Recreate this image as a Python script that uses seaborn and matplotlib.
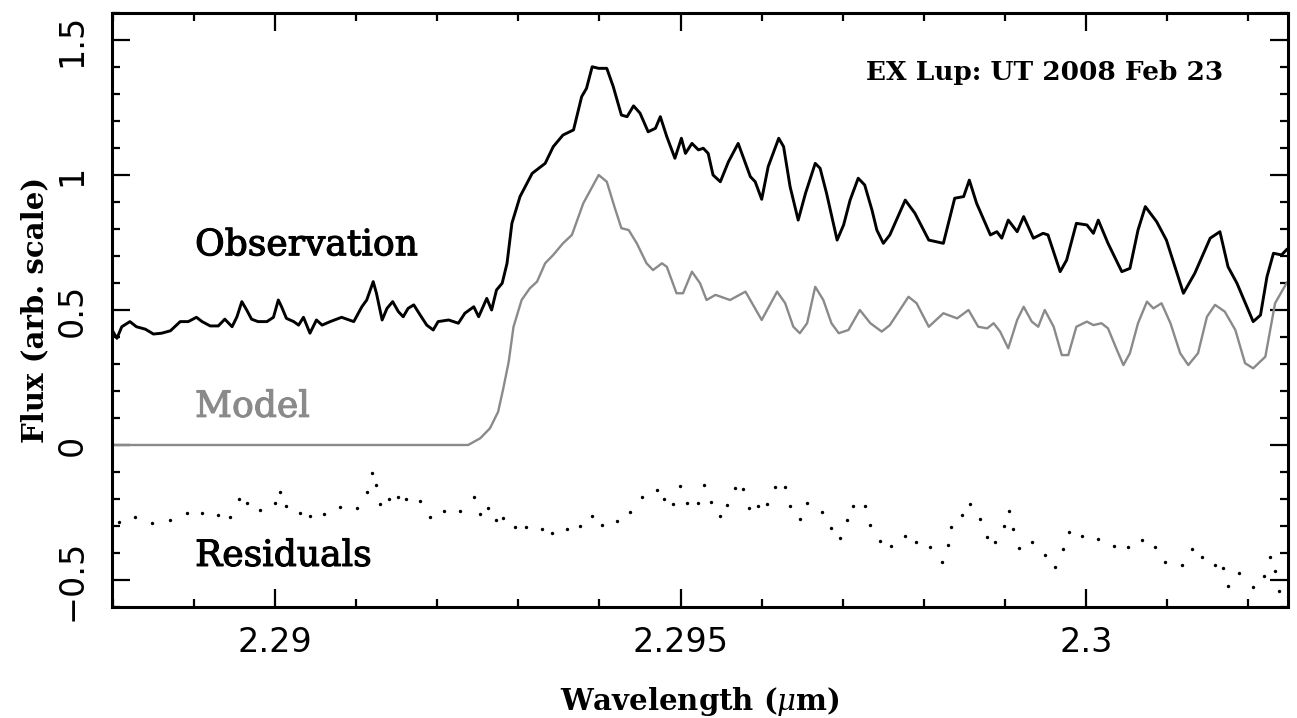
import matplotlib
matplotlib.use("Agg")
import matplotlib.pyplot as plt
import matplotlib.patheffects as pe
import seaborn as sns
import pandas as pd
from matplotlib.ticker import MultipleLocator, FixedLocator, FixedFormatter

# --- Observed spectrum (wavelength in micron, flux in arbitrary units) ---
obs_wave = [
    2.28799, 2.28805, 2.28811, 2.28821, 2.28829, 2.28840, 2.28850, 2.28860, 2.28871, 2.28883,
    2.28893, 2.28903, 2.28910, 2.28920, 2.28930, 2.28938, 2.28947, 2.28953, 2.28959, 2.28965,
    2.28971, 2.28979, 2.28990, 2.28998, 2.29004, 2.29008, 2.29014, 2.29023, 2.29029, 2.29035,
    2.29043, 2.29051, 2.29058, 2.29068, 2.29082, 2.29097, 2.29107, 2.29113, 2.29121, 2.29125,
    2.29132, 2.29138, 2.29145, 2.29152, 2.29158, 2.29164, 2.29171, 2.29179, 2.29187, 2.29195,
    2.29201, 2.29214, 2.29226, 2.29234, 2.29245, 2.29251, 2.29261, 2.29267, 2.29273, 2.29280,
    2.29286, 2.29292, 2.29302, 2.29317, 2.29333, 2.29343, 2.29355, 2.29368, 2.29378, 2.29384,
    2.29391, 2.29399, 2.29409, 2.29417, 2.29427, 2.29434, 2.29442, 2.29450, 2.29460, 2.29469,
    2.29475, 2.29483, 2.29493, 2.29501, 2.29506, 2.29514, 2.29522, 2.29528, 2.29534, 2.29540,
    2.29549, 2.29559, 2.29571, 2.29586, 2.29592, 2.29600, 2.29608, 2.29621, 2.29627, 2.29635,
    2.29645, 2.29654, 2.29666, 2.29672, 2.29680, 2.29693, 2.29701, 2.29709, 2.29719, 2.29727,
    2.29736, 2.29742, 2.29750, 2.29758, 2.29777, 2.29789, 2.29806, 2.29824, 2.29838, 2.29849,
    2.29856, 2.29865, 2.29882, 2.29890, 2.29896, 2.29904, 2.29915, 2.29923, 2.29935, 2.29947,
    2.29953, 2.29968, 2.29976, 2.29988, 2.30001, 2.30009, 2.30015, 2.30027, 2.30044, 2.30054,
    2.30064, 2.30073, 2.30087, 2.30099, 2.30120, 2.30134, 2.30153, 2.30165, 2.30175, 2.30186,
    2.30206, 2.30215, 2.30223, 2.30231, 2.30241, 2.30248,
]
obs_flux = [
    0.426, 0.395, 0.438, 0.457, 0.438, 0.429, 0.411, 0.414, 0.423, 0.457,
    0.457, 0.473, 0.457, 0.441, 0.441, 0.466, 0.438, 0.475, 0.531, 0.500,
    0.466, 0.457, 0.457, 0.473, 0.537, 0.512, 0.469, 0.457, 0.444, 0.473,
    0.414, 0.463, 0.444, 0.457, 0.473, 0.457, 0.512, 0.537, 0.605, 0.562,
    0.463, 0.506, 0.531, 0.494, 0.475, 0.506, 0.519, 0.481, 0.444, 0.426,
    0.457, 0.463, 0.451, 0.488, 0.512, 0.475, 0.543, 0.500, 0.574, 0.599,
    0.673, 0.821, 0.920, 1.006, 1.043, 1.105, 1.148, 1.167, 1.290, 1.321,
    1.401, 1.395, 1.395, 1.327, 1.222, 1.216, 1.256, 1.229, 1.160, 1.173,
    1.216, 1.142, 1.062, 1.136, 1.080, 1.117, 1.093, 1.099, 1.080, 1.000,
    0.975, 1.049, 1.117, 0.994, 0.975, 0.910, 1.031, 1.136, 1.105, 0.957,
    0.833, 0.932, 1.043, 1.025, 0.932, 0.759, 0.815, 0.907, 0.988, 0.963,
    0.870, 0.796, 0.747, 0.778, 0.907, 0.858, 0.759, 0.747, 0.914, 0.920,
    0.981, 0.895, 0.778, 0.790, 0.766, 0.833, 0.790, 0.846, 0.766, 0.784,
    0.778, 0.642, 0.685, 0.821, 0.815, 0.784, 0.833, 0.747, 0.642, 0.654,
    0.796, 0.883, 0.827, 0.759, 0.562, 0.636, 0.766, 0.790, 0.660, 0.599,
    0.457, 0.481, 0.623, 0.710, 0.704, 0.726,
]

# --- Model spectrum ---
model_wave = [
    2.28799, 2.29238, 2.29253, 2.29265, 2.29275, 2.29281, 2.29288, 2.29294, 2.29304, 2.29314,
    2.29323, 2.29333, 2.29343, 2.29355, 2.29366, 2.29380, 2.29399, 2.29409, 2.29419, 2.29427,
    2.29436, 2.29446, 2.29458, 2.29466, 2.29477, 2.29483, 2.29495, 2.29503, 2.29514, 2.29524,
    2.29532, 2.29543, 2.29561, 2.29580, 2.29600, 2.29619, 2.29629, 2.29639, 2.29647, 2.29656,
    2.29666, 2.29676, 2.29686, 2.29695, 2.29707, 2.29721, 2.29734, 2.29748, 2.29758, 2.29781,
    2.29791, 2.29806, 2.29824, 2.29841, 2.29855, 2.29867, 2.29878, 2.29886, 2.29894, 2.29904,
    2.29915, 2.29923, 2.29933, 2.29941, 2.29949, 2.29960, 2.29970, 2.29978, 2.29988, 2.30001,
    2.30009, 2.30019, 2.30027, 2.30038, 2.30046, 2.30054, 2.30064, 2.30075, 2.30083, 2.30093,
    2.30104, 2.30116, 2.30126, 2.30138, 2.30149, 2.30159, 2.30171, 2.30184, 2.30196, 2.30206,
    2.30221, 2.30233, 2.30248,
]
model_flux = [
    0.000, 0.000, 0.025, 0.062, 0.123, 0.204, 0.307, 0.438, 0.537, 0.580,
    0.605, 0.673, 0.704, 0.747, 0.778, 0.895, 1.000, 0.975, 0.877, 0.803,
    0.796, 0.747, 0.673, 0.648, 0.673, 0.660, 0.562, 0.562, 0.642, 0.599,
    0.537, 0.556, 0.537, 0.568, 0.463, 0.568, 0.525, 0.438, 0.414, 0.451,
    0.586, 0.537, 0.451, 0.414, 0.426, 0.500, 0.451, 0.420, 0.444, 0.549,
    0.525, 0.438, 0.488, 0.469, 0.500, 0.438, 0.432, 0.451, 0.420, 0.358,
    0.463, 0.512, 0.457, 0.438, 0.500, 0.438, 0.333, 0.333, 0.438, 0.457,
    0.444, 0.451, 0.432, 0.352, 0.296, 0.340, 0.451, 0.531, 0.506, 0.525,
    0.451, 0.340, 0.296, 0.340, 0.475, 0.519, 0.494, 0.426, 0.303, 0.284,
    0.327, 0.525, 0.604,
]

# --- Residuals (observation minus model, offset) ---
resid_wave = [
    2.28807, 2.28827, 2.28848, 2.28871, 2.28891, 2.28910, 2.28930, 2.28945, 2.28955, 2.28965,
    2.28982, 2.29000, 2.29006, 2.29014, 2.29031, 2.29043, 2.29060, 2.29080, 2.29101, 2.29113,
    2.29120, 2.29125, 2.29129, 2.29140, 2.29152, 2.29162, 2.29179, 2.29191, 2.29208, 2.29228,
    2.29245, 2.29253, 2.29263, 2.29273, 2.29281, 2.29296, 2.29310, 2.29329, 2.29341, 2.29360,
    2.29376, 2.29391, 2.29403, 2.29421, 2.29438, 2.29452, 2.29471, 2.29479, 2.29491, 2.29499,
    2.29508, 2.29522, 2.29529, 2.29538, 2.29549, 2.29557, 2.29567, 2.29577, 2.29584, 2.29596,
    2.29606, 2.29617, 2.29629, 2.29635, 2.29647, 2.29656, 2.29674, 2.29686, 2.29697, 2.29705,
    2.29713, 2.29727, 2.29734, 2.29746, 2.29760, 2.29777, 2.29790, 2.29808, 2.29822, 2.29830,
    2.29834, 2.29847, 2.29857, 2.29869, 2.29878, 2.29888, 2.29899, 2.29905, 2.29910, 2.29917,
    2.29933, 2.29949, 2.29962, 2.29971, 2.29979, 2.29995, 2.30015, 2.30034, 2.30052, 2.30069,
    2.30085, 2.30097, 2.30118, 2.30130, 2.30143, 2.30159, 2.30169, 2.30175, 2.30189, 2.30206,
    2.30219, 2.30227, 2.30233, 2.30238,
]
resid_flux = [
    -0.284, -0.266, -0.288, -0.278, -0.251, -0.253, -0.259, -0.266, -0.201, -0.214,
    -0.241, -0.216, -0.173, -0.225, -0.251, -0.263, -0.256, -0.231, -0.234, -0.173,
    -0.103, -0.148, -0.219, -0.201, -0.191, -0.201, -0.209, -0.267, -0.244, -0.243,
    -0.194, -0.256, -0.234, -0.278, -0.271, -0.305, -0.305, -0.311, -0.327, -0.312,
    -0.300, -0.263, -0.296, -0.280, -0.247, -0.194, -0.167, -0.201, -0.219, -0.152,
    -0.214, -0.216, -0.148, -0.212, -0.263, -0.222, -0.158, -0.164, -0.232, -0.225,
    -0.220, -0.154, -0.157, -0.226, -0.275, -0.214, -0.247, -0.309, -0.346, -0.278,
    -0.226, -0.226, -0.296, -0.356, -0.374, -0.337, -0.358, -0.377, -0.432, -0.370,
    -0.303, -0.259, -0.219, -0.275, -0.342, -0.358, -0.300, -0.244, -0.312, -0.383,
    -0.358, -0.407, -0.451, -0.386, -0.321, -0.337, -0.348, -0.373, -0.377, -0.352,
    -0.377, -0.432, -0.444, -0.386, -0.414, -0.444, -0.454, -0.522, -0.475, -0.527,
    -0.485, -0.414, -0.466, -0.540,
]

# --- Axis ticks and labels ---
x_ticks = [2.29, 2.295, 2.3]
x_tick_labels = ["2.29", "2.295", "2.3"]
y_ticks = [-0.5, 0.0, 0.5, 1.0, 1.5]
y_tick_labels = ["\u22120.5", "0", "0.5", "1", "1.5"]

obs_df = pd.DataFrame({"wavelength": obs_wave, "flux": obs_flux})
model_df = pd.DataFrame({"wavelength": model_wave, "flux": model_flux})
resid_df = pd.DataFrame({"wavelength": resid_wave, "flux": resid_flux})

sns.set_theme(style="ticks")
plt.rcParams["font.family"] = ["DejaVu Sans"]
plt.rcParams["mathtext.fontset"] = "dejavuserif"
plt.rcParams["text.color"] = "black"
plt.rcParams["axes.labelcolor"] = "black"
plt.rcParams["xtick.color"] = "black"
plt.rcParams["ytick.color"] = "black"

MODEL_GREY = "#8a8a8a"

fig = plt.figure(figsize=(12.97, 7.18), dpi=100, facecolor="white")
ax = fig.add_axes([0.0864, 0.1546, 0.9067, 0.8273])
ax.set_facecolor("white")

sns.lineplot(data=obs_df, x="wavelength", y="flux", ax=ax, color="black",
             linewidth=2.1, sort=False, estimator=None)
sns.lineplot(data=model_df, x="wavelength", y="flux", ax=ax, color=MODEL_GREY,
             linewidth=1.7, sort=False, estimator=None)
sns.scatterplot(data=resid_df, x="wavelength", y="flux", ax=ax, color="black",
                s=6, linewidth=0, marker="o")

ax.set_xlim(2.28799, 2.30249)
ax.set_ylim(-0.6, 1.6)

ax.xaxis.set_major_locator(FixedLocator(x_ticks))
ax.xaxis.set_major_formatter(FixedFormatter(x_tick_labels))
ax.xaxis.set_minor_locator(MultipleLocator(0.001))
ax.yaxis.set_major_locator(FixedLocator(y_ticks))
ax.yaxis.set_major_formatter(FixedFormatter(y_tick_labels))
ax.yaxis.set_minor_locator(MultipleLocator(0.1))

for side in ["top", "bottom", "left", "right"]:
    ax.spines[side].set_visible(True)
    ax.spines[side].set_linewidth(2.2)
    ax.spines[side].set_color("black")

ax.tick_params(which="both", direction="in", top=True, right=True,
               bottom=True, left=True, color="black", labelcolor="black")
ax.tick_params(which="major", length=13, width=1.6)
ax.tick_params(which="minor", length=6, width=1.6)
ax.tick_params(axis="x", which="major", labelsize=24, pad=14)
ax.tick_params(axis="y", which="major", labelsize=24, pad=17, labelrotation=90)
for lbl in ax.get_yticklabels():
    lbl.set_verticalalignment("center")

label_font = {"family": "DejaVu Serif", "size": 21, "weight": "bold",
              "color": "black"}
ax.set_xlabel("Wavelength ($\\mu$m)", fontdict=label_font)
ax.set_ylabel("Flux (arb. scale)", fontdict=label_font)
ax.xaxis.set_label_coords(0.5, -0.131)
ax.yaxis.set_label_coords(-0.053, 0.5)

heavier = [pe.withStroke(linewidth=0.8, foreground="black")]
heavier_grey = [pe.withStroke(linewidth=0.8, foreground=MODEL_GREY)]

ax.text(0.0706, 0.609, "Observation", transform=ax.transAxes, ha="left",
        va="center", family="DejaVu Serif", fontsize=26, color="black",
        path_effects=heavier)
ax.text(0.0706, 0.337, "Model", transform=ax.transAxes, ha="left",
        va="center", family="DejaVu Serif", fontsize=26, color=MODEL_GREY,
        path_effects=heavier_grey)
ax.text(0.0706, 0.086, "Residuals", transform=ax.transAxes, ha="left",
        va="center", family="DejaVu Serif", fontsize=26, color="black",
        path_effects=heavier)
ax.text(0.945, 0.90, "EX Lup: UT 2008 Feb 23", transform=ax.transAxes,
        ha="right", va="center", family="DejaVu Serif", fontsize=19,
        fontweight="bold", color="black")

fig.savefig("out.png", dpi=100, facecolor="white")
